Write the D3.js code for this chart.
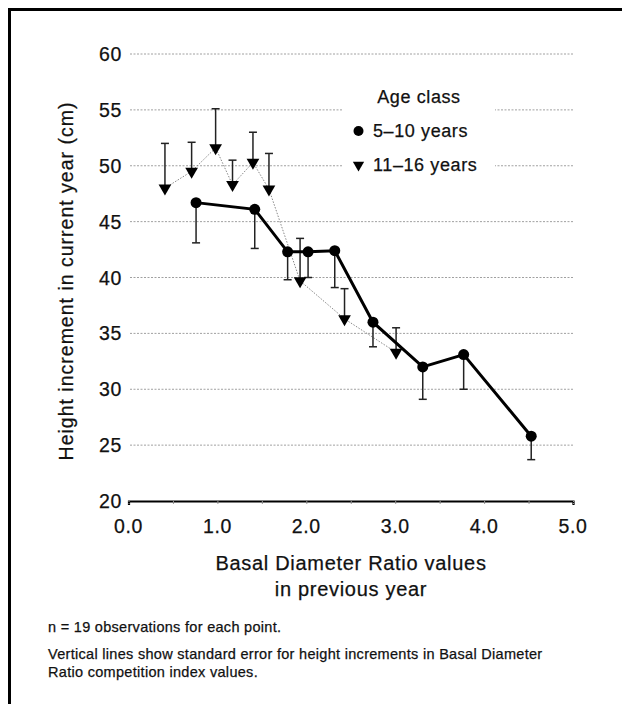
<!DOCTYPE html>
<html><head><meta charset="utf-8">
<script src="https://cdnjs.cloudflare.com/ajax/libs/d3/7.8.5/d3.min.js"></script>
<style>body{margin:0;background:#fff}svg{display:block}text{font-family:"Liberation Sans",Arial,sans-serif;fill:#111;stroke:#111;stroke-width:0.25px}</style>
</head><body><svg id="c" width="622" height="704"></svg>
<script>
// Data
const youngX  = [0.76, 1.42, 1.79, 2.02, 2.32, 2.75, 3.31, 3.77, 4.53];
const youngY  = [46.7, 46.1, 42.3, 42.3, 42.4, 36.0, 32.0, 33.1, 25.8];
const youngSE = [3.6, 3.5, 2.5, 2.3, 3.3, 2.2, 2.9, 3.1, 2.1];
const oldX    = [0.41, 0.71, 0.98, 1.17, 1.40, 1.58, 1.93, 2.43, 3.01];
const oldY    = [48.0, 49.5, 51.6, 48.3, 50.3, 47.9, 39.7, 36.3, 33.3];
const oldSE   = [4.0, 2.6, 3.5, 2.2, 2.7, 3.2, 3.8, 2.7, 2.2];
const xTicks  = [0, 1, 2, 3, 4, 5];
const xMinor  = [0, 0.5, 1, 1.5, 2, 2.5, 3, 3.5, 4, 4.5, 5];
const yTicks  = [20, 25, 30, 35, 40, 45, 50, 55, 60];
const legendTitle = "Age class";
const seriesNames = ["5–10 years", "11–16 years"];
const xTitle = ["Basal Diameter Ratio values", "in previous year"];
const yTitle = "Height increment in current year (cm)";
const notes = ["n = 19 observations for each point.",
  "Vertical lines show standard error for height increments in Basal Diameter",
  "Ratio competition index values."];

const svg = d3.select("#c");
const x = d3.scaleLinear().domain([0, 5]).range([128.5, 573]);
const y = d3.scaleLinear().domain([20, 60]).range([501, 54]);

// frame
svg.append("rect").attr("x", 9.5).attr("y", 9.5).attr("width", 700).attr("height", 800)
  .attr("fill", "none").attr("stroke", "#000").attr("stroke-width", 3);

// gridlines
svg.append("g").selectAll("line").data(yTicks.filter(d => d > 20)).join("line")
  .attr("x1", 130).attr("x2", 573).attr("y1", d => y(d)).attr("y2", d => y(d))
  .attr("stroke", "#a0a0a0").attr("stroke-width", 1).attr("stroke-dasharray", "2,1.5");

// legend background (interrupts gridlines)
svg.append("rect").attr("x", 343).attr("y", 76).attr("width", 152).attr("height", 108).attr("fill", "#fff");

// y tick labels
svg.append("g").selectAll("text").data(yTicks).join("text")
  .attr("x", 122).attr("y", d => y(d) + 7).attr("text-anchor", "end")
  .attr("font-size", 19.5).attr("letter-spacing", 0.6).text(d => d);

// x axis
const xAxis = d3.axisBottom(x).tickValues(xMinor).tickSize(4).tickFormat("");
const gx = svg.append("g").attr("transform", `translate(0,${y(20)})`).call(xAxis);
gx.select(".domain").attr("stroke", "#000").attr("stroke-width", 2.2);
gx.selectAll(".tick line").attr("stroke", "#999").attr("stroke-width", 1).attr("stroke-dasharray", "1,1");
svg.append("g").selectAll("text").data(xTicks).join("text")
  .attr("x", d => x(d)).attr("y", 533).attr("text-anchor", "middle")
  .attr("font-size", 19.5).attr("letter-spacing", 0.6).text(d => d.toFixed(1));

// axis titles
svg.append("g").selectAll("text").data(xTitle).join("text")
  .attr("x", 351).attr("y", (d, i) => 570 + i * 26).attr("text-anchor", "middle")
  .attr("font-size", 20).attr("letter-spacing", 0.7).text(d => d);
svg.append("text").attr("transform", "translate(73,281) rotate(-90)").attr("text-anchor", "middle")
  .attr("font-size", 19.5).attr("letter-spacing", 1).text(yTitle);

// data
const young = youngX.map((v, i) => ({x: v, y: youngY[i], se: youngSE[i]}));
const old = oldX.map((v, i) => ({x: v, y: oldY[i], se: oldSE[i]}));
const line = d3.line().x(d => x(d.x)).y(d => y(d.y));

// old series: dotted line
svg.append("path").datum(old).attr("d", line).attr("fill", "none")
  .attr("stroke", "#888").attr("stroke-width", 1).attr("stroke-dasharray", "1.5,1.5");
// error bars
const ge = svg.append("g").attr("stroke", "#222").attr("stroke-width", 1.5);
old.forEach(d => {
  ge.append("line").attr("x1", x(d.x)).attr("x2", x(d.x)).attr("y1", y(d.y)).attr("y2", y(d.y + d.se));
  ge.append("line").attr("x1", x(d.x) - 4).attr("x2", x(d.x) + 4).attr("y1", y(d.y + d.se)).attr("y2", y(d.y + d.se));
});
young.forEach(d => {
  ge.append("line").attr("x1", x(d.x)).attr("x2", x(d.x)).attr("y1", y(d.y)).attr("y2", y(d.y - d.se));
  ge.append("line").attr("x1", x(d.x) - 4).attr("x2", x(d.x) + 4).attr("y1", y(d.y - d.se)).attr("y2", y(d.y - d.se));
});
// young line
svg.append("path").datum(young).attr("d", line).attr("fill", "none")
  .attr("stroke", "#000").attr("stroke-width", 3);

const tri = d3.symbol().type(d3.symbolTriangle).size(70);
svg.append("g").selectAll("path").data(old).join("path")
  .attr("d", tri).attr("transform", d => `translate(${x(d.x)},${y(d.y)}) rotate(180)`).attr("fill", "#000");
svg.append("g").selectAll("circle").data(young).join("circle")
  .attr("cx", d => x(d.x)).attr("cy", d => y(d.y)).attr("r", 5.5).attr("fill", "#000");

// legend
svg.append("text").attr("x", 419).attr("y", 103).attr("text-anchor", "middle")
  .attr("font-size", 18).attr("letter-spacing", 0.6).text(legendTitle);
svg.append("circle").attr("cx", 358.5).attr("cy", 131).attr("r", 5).attr("fill", "#000");
svg.append("path").attr("d", d3.symbol().type(d3.symbolTriangle).size(55))
  .attr("transform", "translate(358.5,165) rotate(180)").attr("fill", "#000");
svg.append("g").selectAll("text").data(seriesNames).join("text")
  .attr("x", 373).attr("y", (d, i) => 137 + i * 34)
  .attr("font-size", 18).attr("letter-spacing", 0.6).text(d => d);

// notes
svg.append("g").selectAll("text").data(notes).join("text")
  .attr("x", 48).attr("y", (d, i) => [632, 659, 677][i])
  .attr("font-size", 14.5).attr("letter-spacing", 0.3).text(d => d);
</script></body></html>
